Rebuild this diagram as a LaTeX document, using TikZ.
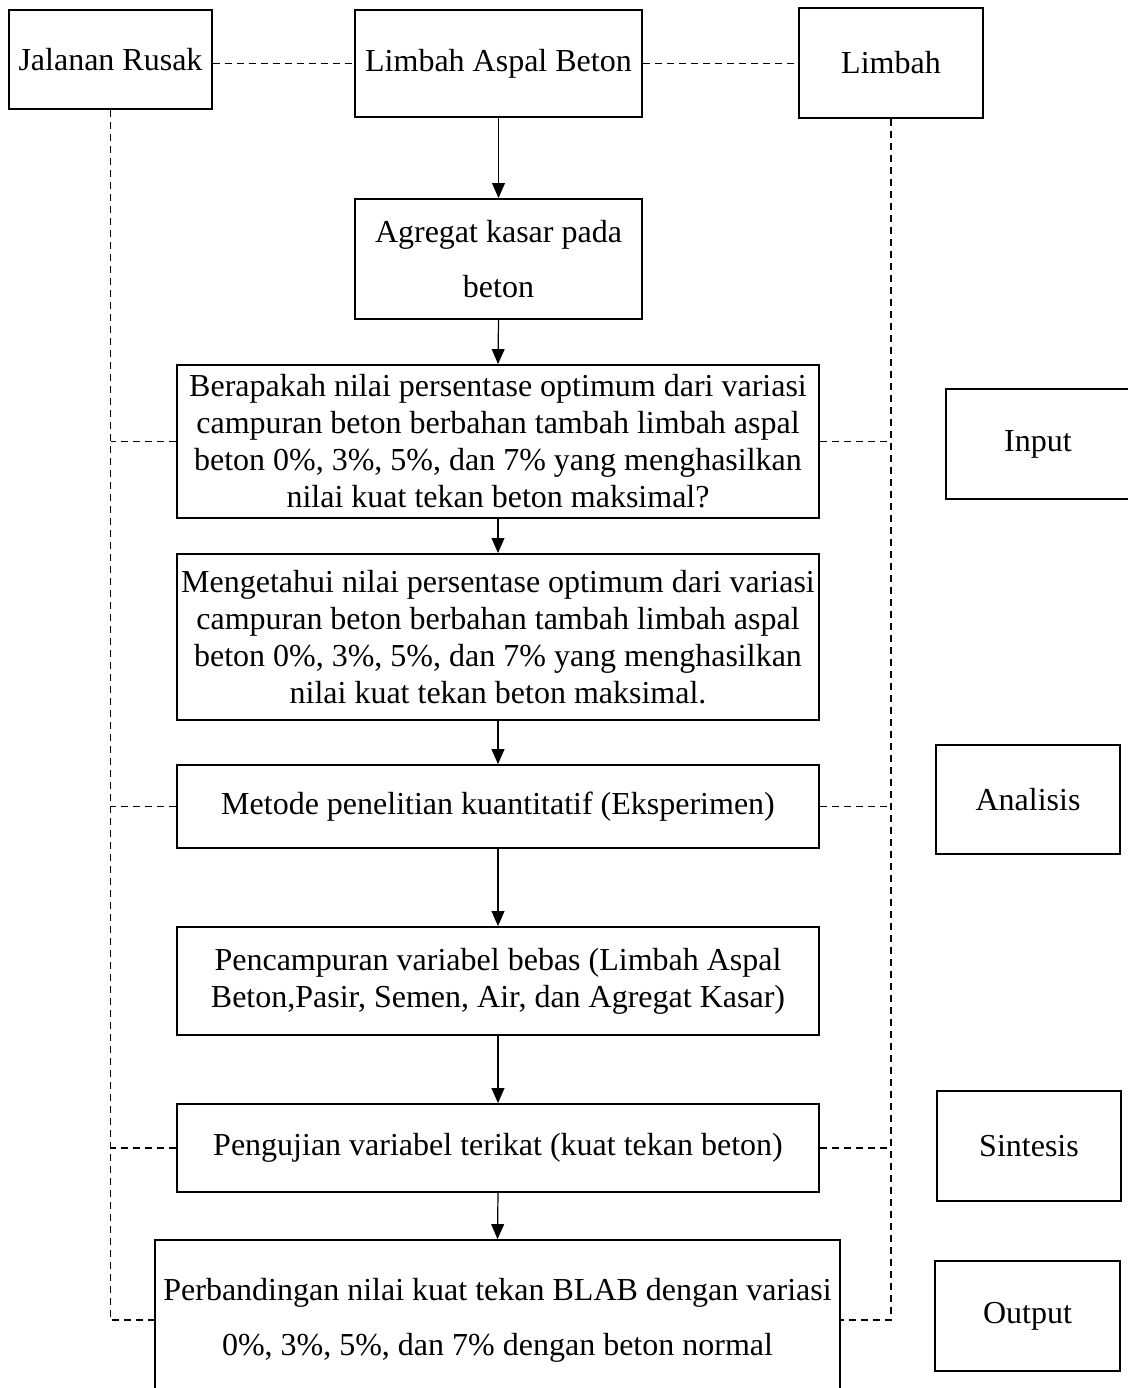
\documentclass[tikz,border=0pt]{standalone}
\usepackage{fontspec}
\setmainfont{Liberation Serif}
\usetikzlibrary{arrows.meta}

\begin{document}
\begin{tikzpicture}[x=0.375pt,y=-0.375pt,
  box/.style={draw, line width=0.7pt, align=center, inner sep=0pt,
    font={\fontsize{12pt}{13.9pt}\selectfont}},
  widebox/.style={box, font={\fontsize{12pt}{20.6pt}\selectfont}},
  flow/.style={line width=0.45pt, -{Triangle[length=5.6pt,width=4.8pt]}},
  link/.style={line width=0.65pt, dash pattern=on 2.6pt off 1.9pt}]
\useasboundingbox (0,0) rectangle (1128,1388);
\clip (0,0) rectangle (1128,1388);

\node[box, minimum width=76.1pt, minimum height=37.1pt] (jalan) at (110.5,59.5) {Jalanan Rusak};
\node[box, minimum width=107.6pt, minimum height=40.1pt] (aspal) at (498.5,63.5) {Limbah Aspal Beton};
\node[box, minimum width=69pt, minimum height=41.3pt] (limbah) at (891,63) {Limbah};

\node[widebox, minimum width=107.6pt, minimum height=45pt] (agregat) at (498.5,259) {Agregat kasar pada\\beton};
\node[box, minimum width=240.8pt, minimum height=57.4pt] (tanya) at (498,441.5) {Berapakah nilai persentase optimum dari variasi\\campuran beton berbahan tambah limbah aspal\\beton 0\%, 3\%, 5\%, dan 7\% yang menghasilkan\\nilai kuat tekan beton maksimal?};
\node[box, minimum width=240.8pt, minimum height=62.3pt] (tujuan) at (498,637) {Mengetahui nilai persentase optimum dari variasi\\campuran beton berbahan tambah limbah aspal\\beton 0\%, 3\%, 5\%, dan 7\% yang menghasilkan\\nilai kuat tekan beton maksimal.};
\node[box, minimum width=240.8pt, minimum height=31.1pt] (metode) at (498,806.5) {Metode penelitian kuantitatif (Eksperimen)};
\node[box, minimum width=240.8pt, minimum height=40.5pt] (campur) at (498,981) {Pencampuran variabel bebas (Limbah Aspal\\Beton,Pasir, Semen, Air, dan Agregat Kasar)};
\node[box, minimum width=240.8pt, minimum height=33pt] (uji) at (498,1148) {Pengujian variabel terikat (kuat tekan beton)};
\node[widebox, minimum width=256.9pt, minimum height=60pt] (banding) at (497.5,1320) {Perbandingan nilai kuat tekan BLAB dengan variasi\\0\%, 3\%, 5\%, dan 7\% dengan beton normal};

\node[box, minimum width=69pt, minimum height=41.3pt] (input) at (1038,444) {Input};
\node[box, minimum width=69pt, minimum height=40.9pt] (analisis) at (1028,799.5) {Analisis};
\node[box, minimum width=69pt, minimum height=41.3pt] (sintesis) at (1029,1146) {Sintesis};
\node[box, minimum width=69.4pt, minimum height=41.3pt] (output) at (1027.5,1316) {Output};

\draw[flow] (aspal.south) -- (agregat.north);
\draw[flow] (agregat.south) -- (tanya.north);
\draw[flow] (tanya.south) -- (tujuan.north);
\draw[flow] (tujuan.south) -- (metode.north);
\draw[flow] (metode.south) -- (campur.north);
\draw[flow] (campur.south) -- (uji.north);
\draw[flow] (uji.south) -- (banding.north);

\draw[link] (aspal.west -| jalan.east) -- (aspal.west);
\draw[link] (aspal.east) -- (aspal.east -| limbah.west);
\draw[link] (jalan.south) |- (banding.west);
\draw[link] (limbah.south) |- (banding.east);
\draw[link] (tanya.west) -- (tanya.west -| jalan.south);
\draw[link] (metode.west) -- (metode.west -| jalan.south);
\draw[link] (uji.west) -- (uji.west -| jalan.south);
\draw[link] (tanya.east) -- (tanya.east -| limbah.south);
\draw[link] (metode.east) -- (metode.east -| limbah.south);
\draw[link] (uji.east) -- (uji.east -| limbah.south);
\end{tikzpicture}
\end{document}
